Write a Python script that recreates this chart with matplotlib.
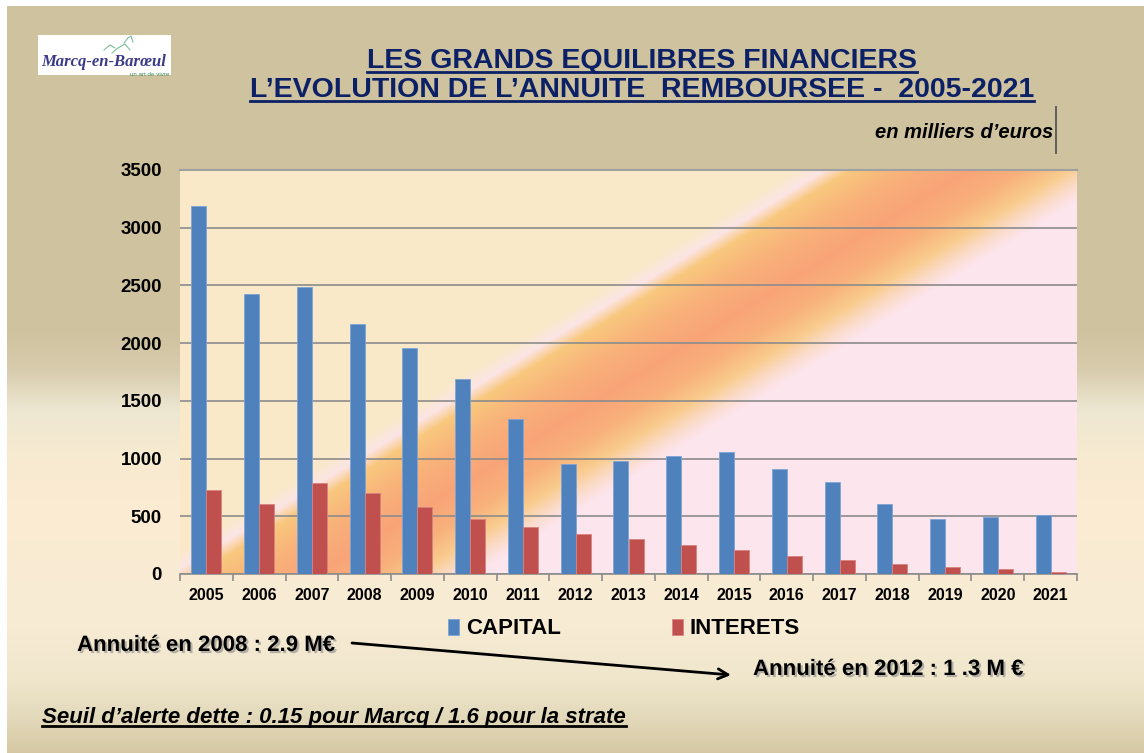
import matplotlib.pyplot as plt
import matplotlib.patheffects as pe
from matplotlib.lines import Line2D
import numpy as np

plt.rcParams['font.family'] = ['Liberation Sans', 'DejaVu Sans']

# données (milliers d'euros)
annees = ['2005', '2006', '2007', '2008', '2009', '2010', '2011', '2012', '2013',
          '2014', '2015', '2016', '2017', '2018', '2019', '2020', '2021']
capital = [3190, 2425, 2490, 2168, 1960, 1690, 1340, 950, 982,
           1018, 1060, 912, 800, 610, 475, 492, 508]
interets = [725, 609, 786, 701, 584, 477, 407, 345, 299,
            254, 208, 155, 118, 84, 57, 40, 20]
yticks = [0, 500, 1000, 1500, 2000, 2500, 3000, 3500]

W, H = 1144, 753
fig = plt.figure(figsize=(W / 100, H / 100), dpi=100)


def hex2rgb(h):
    h = h.lstrip('#')
    return [int(h[i:i + 2], 16) / 255 for i in (0, 2, 4)]


# fond de la diapo : degrade vertical
ax_bg = fig.add_axes([7 / W, 0, 1 - 7 / W, 1 - 6 / H])
ax_bg.set_axis_off()
yy = np.arange(747) + 6
stops_y = [0, 330, 370, 410, 450, 500, 620, 680, 720, 753]
stops_c = ['#D0C3A0', '#CFC29F', '#D8CCAE', '#EDE7D2', '#F6EAD0', '#FBEBD2',
           '#F8ECD4', '#EFE6CC', '#E2D8B9', '#D5C7A2']
cols = np.array([hex2rgb(c) for c in stops_c])
grad = np.stack([np.interp(yy, stops_y, cols[:, k]) for k in range(3)], axis=-1)
ax_bg.imshow(grad[:, None, :], aspect='auto', extent=[0, 1, 0, 1])
ax_bg.set_xlim(0, 1)
ax_bg.set_ylim(0, 1)

# zone du graphique
x0, x1, y0, y1 = 180, 1077, 170, 574
ax = fig.add_axes([x0 / W, 1 - y1 / H, (x1 - x0) / W, (y1 - y0) / H])

# bande diagonale orange
pw, ph = x1 - x0, y1 - y0
xl, yl = np.meshgrid(np.arange(pw), np.arange(ph))
d = ((xl - 135) * 404 + (yl - 404) * 652) / 767.0
d_stops = [-400, -90, -76, -62, -34, 0, 28, 52, 70, 84, 400]
d_cols = ['#FAE9C8', '#FAE9CA', '#FCE5E6', '#F9C87E', '#F8B27A', '#F8A478',
          '#F8B07B', '#F9CB8C', '#FBDCCB', '#FDE5EE', '#FDE6EF']
dc = np.array([hex2rgb(c) for c in d_cols])
band = np.stack([np.interp(d, d_stops, dc[:, k]) for k in range(3)], axis=-1)
ax.imshow(band, aspect='auto', extent=[-0.5, 16.5, 0, 3500], zorder=0)

x = np.arange(len(annees))
w = 0.285
b1 = ax.bar(x - w / 2, capital, w, color='#4F81BD', edgecolor='#7EA4D6',
            linewidth=0.6, label='CAPITAL', zorder=3)
b2 = ax.bar(x + w / 2, interets, w, color='#C0504D', edgecolor='#D88380',
            linewidth=0.6, label='INTERETS', zorder=3)

ax.set_xlim(-0.5, 16.5)
ax.set_ylim(0, 3500)
ax.set_yticks(yticks)
ax.set_yticklabels([str(v) for v in yticks], fontsize=13.5, fontweight='bold')
ax.set_xticks(x)
ax.set_xticklabels(annees, fontsize=11.5, fontweight='bold')
ax.set_xticks(np.arange(-0.5, 17, 1), minor=True)
ax.tick_params(axis='y', length=0, pad=13)
ax.tick_params(axis='x', which='major', length=0, pad=10)
ax.tick_params(axis='x', which='minor', length=5, color='#8C8C8C', width=1.2)
ax.grid(axis='y', color='#8C8C8C', linewidth=1.2, zorder=1)
ax.set_axisbelow(True)
for s in ['left', 'right']:
    ax.spines[s].set_visible(False)
ax.spines['top'].set_color('#A0A0A0')
ax.spines['top'].set_linewidth(1.5)
ax.spines['bottom'].set_color('#8C8C8C')
ax.spines['bottom'].set_linewidth(1.2)

# légende
fig.legend(handles=[b1, b2], loc='center', bbox_to_anchor=(624 / W, 1 - 629 / H),
           ncol=2, frameon=False, handlelength=0.5, handleheight=0.7,
           handletextpad=0.3, columnspacing=5.0,
           prop={'weight': 'bold', 'size': 16})

# titre
navy = '#0C2066'
t1 = fig.text(642 / W, 1 - 68 / H, 'LES GRANDS EQUILIBRES FINANCIERS', ha='center',
              va='baseline', fontsize=20.5, fontweight='bold', color=navy)
t2 = fig.text(642 / W, 1 - 97 / H,
              'L\u2019EVOLUTION DE L\u2019ANNUITE  REMBOURSEE -  2005-2021',
              ha='center', va='baseline', fontsize=20.5, fontweight='bold', color=navy)

fig.text(1053 / W, 1 - 138 / H, 'en milliers d\u2019euros', ha='right', va='baseline',
         fontsize=14.5, fontweight='bold', style='italic', color='black')
fig.add_artist(Line2D([1056 / W, 1056 / W], [1 - 107 / H, 1 - 153 / H],
                      color='#555555', linewidth=1.3))

# logo
fig.patches.append(plt.Rectangle((38 / W, 1 - 75 / H), 133 / W, 40 / H,
                                 transform=fig.transFigure, facecolor='white',
                                 edgecolor='none', zorder=2))
fig.text(104 / W, 1 - 66 / H, 'Marcq-en-Barœul', ha='center', va='baseline',
         fontsize=12, fontweight='bold', style='italic', family='Liberation Serif',
         color='#3B3A8A', zorder=3)
fig.text(169 / W, 1 - 75.5 / H, 'un art de vivre', ha='right', va='baseline',
         fontsize=4.5, color='#3C8C5A', zorder=3)
for px, py in [([112, 118, 125, 130], [53, 48, 44, 50]),
               ([124, 128, 131, 133], [43, 38, 36, 42]),
               ([104, 110, 115], [50, 45, 48])]:
    fig.add_artist(Line2D(np.array(px) / W, 1 - np.array(py) / H,
                          color='#7DBE9A', linewidth=0.8, zorder=3))

# annotations avec ombre
shadow = [pe.SimplePatchShadow(offset=(1.5, -1.5), shadow_rgbFace='#8A8A8A', alpha=0.6),
          pe.Normal()]
fig.text(77 / W, 1 - 651 / H, 'Annuité en 2008 : 2.9 M€', ha='left', va='baseline',
         fontsize=16, fontweight='bold', path_effects=shadow)
fig.text(753 / W, 1 - 675 / H, 'Annuité en 2012 : 1 .3 M €', ha='left', va='baseline',
         fontsize=16, fontweight='bold', path_effects=shadow)
ax_bg.annotate('', xy=(731, H - 675), xytext=(352, H - 643),
               xycoords='figure pixels', textcoords='figure pixels',
               arrowprops=dict(arrowstyle='->', color='black', lw=2,
                               mutation_scale=18, shrinkA=0, shrinkB=0))

t3 = fig.text(42 / W, 1 - 723 / H,
              'Seuil d\u2019alerte dette : 0.15 pour Marcq / 1.6 pour la strate',
              ha='left', va='baseline', fontsize=16, fontweight='bold',
              style='italic', color='black')

# soulignements
fig.canvas.draw()
rend = fig.canvas.get_renderer()
for t, off, c in [(t1, 4, navy), (t2, 4, navy), (t3, 3, 'black')]:
    bb = t.get_window_extent(rend)
    ybase = t.get_position()[1] * H - off
    fig.add_artist(Line2D([bb.x0 / W, bb.x1 / W], [ybase / H, ybase / H],
                          color=c, linewidth=2))

fig.savefig('out.png', dpi=100)
